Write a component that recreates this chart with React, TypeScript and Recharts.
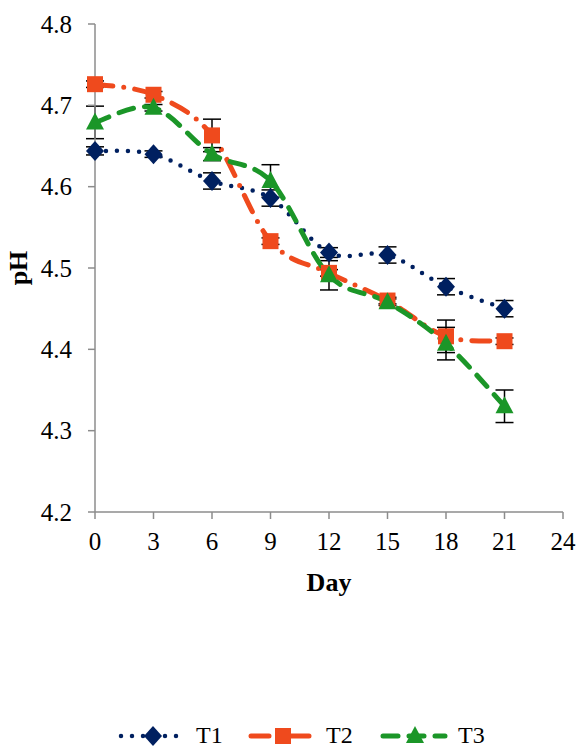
import { ErrorBar, Line, LineChart, XAxis, YAxis, Label } from "recharts"

document.body.style.margin = "0"

const days = [0, 3, 6, 9, 12, 15, 18, 21]
const t1 = [4.644, 4.64, 4.607, 4.586, 4.519, 4.516, 4.477, 4.45]
const t2 = [4.726, 4.713, 4.663, 4.533, 4.494, 4.46, 4.416, 4.41]
const t3 = [4.679, 4.697, 4.64, 4.607, 4.491, 4.458, 4.407, 4.33]
const t1Err = [0.005, 0.004, 0.01, 0.01, 0.006, 0.01, 0.01, 0.01]
const t2Err = [0.004, 0.004, 0.02, 0.004, 0.004, 0.004, 0.02, 0.004]
const t3Err = [0.02, 0.004, 0.008, 0.02, 0.018, 0.004, 0.02, 0.02]
const xTicks = [0, 3, 6, 9, 12, 15, 18, 21, 24]
const yTicks = [4.2, 4.3, 4.4, 4.5, 4.6, 4.7, 4.8]

const data = days.map((d, i) => ({
  day: d,
  t1: t1[i],
  t2: t2[i],
  t3: t3[i],
  t1Err: t1Err[i],
  t2Err: t2Err[i],
  t3Err: t3Err[i],
}))

const NAVY = "#002060"
const ORANGE = "#EF4A1D"
const GREEN = "#1B9628"
const AXIS = "#8c8c8c"
const FONT = "Liberation Serif, Times New Roman, serif"

// excel-ish smoothed line (catmull-rom)
const smooth = (context: any) => {
  let pts: number[][] = []
  return {
    areaStart() {},
    areaEnd() {},
    lineStart() {
      pts = []
    },
    point(x: number, y: number) {
      pts.push([+x, +y])
    },
    lineEnd() {
      if (!pts.length) return
      context.moveTo(pts[0][0], pts[0][1])
      for (let i = 0; i < pts.length - 1; i++) {
        const p0 = pts[Math.max(i - 1, 0)]
        const p1 = pts[i]
        const p2 = pts[i + 1]
        const p3 = pts[Math.min(i + 2, pts.length - 1)]
        context.bezierCurveTo(
          p1[0] + (p2[0] - p0[0]) / 6,
          p1[1] + (p2[1] - p0[1]) / 6,
          p2[0] - (p3[0] - p1[0]) / 6,
          p2[1] - (p3[1] - p1[1]) / 6,
          p2[0],
          p2[1]
        )
      }
    },
  }
}

const Diamond = ({ cx, cy }: any) => (
  <path d={`M${cx},${cy - 10}L${cx + 9},${cy}L${cx},${cy + 10}L${cx - 9},${cy}Z`} fill={NAVY} />
)
const Square = ({ cx, cy }: any) => (
  <rect x={cx - 8} y={cy - 8} width={16} height={16} fill={ORANGE} />
)
const Triangle = ({ cx, cy }: any) => (
  <path d={`M${cx},${cy - 10}L${cx + 9},${cy + 7}L${cx - 9},${cy + 7}Z`} fill={GREEN} />
)

const XTick = (p: any) => (
  <text x={p.x} y={p.y} dy="0.71em" textAnchor="middle" fill="#000" fontSize={25} fontFamily={FONT}>
    {p.payload.value}
  </text>
)
const YTick = (p: any) => (
  <text x={p.x} y={p.y} dy="0.35em" textAnchor="end" fill="#000" fontSize={25} fontFamily={FONT}>
    {Number(p.payload.value).toFixed(1)}
  </text>
)

const series = [
  { key: "t1", err: "t1Err", name: "T1", color: NAVY, dash: "0 11", width: 4.5, Marker: Diamond },
  { key: "t2", err: "t2Err", name: "T2", color: ORANGE, dash: "18 11 0 11", width: 5, Marker: Square },
  { key: "t3", err: "t3Err", name: "T3", color: GREEN, dash: "15 11", width: 5, Marker: Triangle },
]

const legendPos = [118, 248, 380]

export default function App() {
  return (
    <div style={{ position: "relative", width: 577, height: 749, background: "#fff", fontFamily: FONT }}>
      <LineChart
        width={577}
        height={749}
        data={data}
        margin={{ top: 24, right: 14, left: 0, bottom: 0 }}
      >
        <XAxis
          dataKey="day"
          type="number"
          domain={[0, 24]}
          ticks={xTicks}
          stroke={AXIS}
          strokeWidth={1.5}
          tickSize={7}
          tickMargin={13}
          height={237}
          tick={XTick}
        >
          <Label
            value="Day"
            position="insideTop"
            offset={61}
            style={{ fill: "#000", fontSize: 26, fontWeight: "bold", fontFamily: FONT }}
          />
        </XAxis>
        <YAxis
          type="number"
          domain={[4.2, 4.8]}
          ticks={yTicks}
          stroke={AXIS}
          strokeWidth={1.5}
          width={95}
          tickSize={7}
          tickMargin={16}
          tick={YTick}
        >
          <Label
            value="pH"
            angle={-90}
            position="insideLeft"
            offset={18}
            style={{ fill: "#000", fontSize: 26, fontWeight: "bold", fontFamily: FONT, textAnchor: "middle" }}
          />
        </YAxis>
        {series.map((s) => (
          <Line
            key={s.key}
            dataKey={s.key}
            name={s.name}
            type={smooth as any}
            stroke={s.color}
            strokeWidth={s.width}
            strokeDasharray={s.dash}
            strokeLinecap="round"
            isAnimationActive={false}
            activeDot={false}
            dot={(p: any) => <s.Marker key={`${s.key}-${p.index}`} cx={p.cx} cy={p.cy} />}
          >
            <ErrorBar dataKey={s.err} width={9} stroke="#000" strokeWidth={1.5} direction="y" />
          </Line>
        ))}
      </LineChart>
      {series.map((s, i) => (
        <div
          key={s.key}
          style={{
            position: "absolute",
            left: legendPos[i],
            top: 722,
            display: "flex",
            alignItems: "center",
            fontSize: 24,
          }}
        >
          <svg width={68} height={26}>
            <line
              x1={3}
              y1={13}
              x2={65}
              y2={13}
              stroke={s.color}
              strokeWidth={s.width}
              strokeDasharray={s.dash}
              strokeLinecap="round"
            />
            <s.Marker cx={35} cy={13} />
          </svg>
          <span style={{ marginLeft: 10 }}>{s.name}</span>
        </div>
      ))}
    </div>
  )
}
